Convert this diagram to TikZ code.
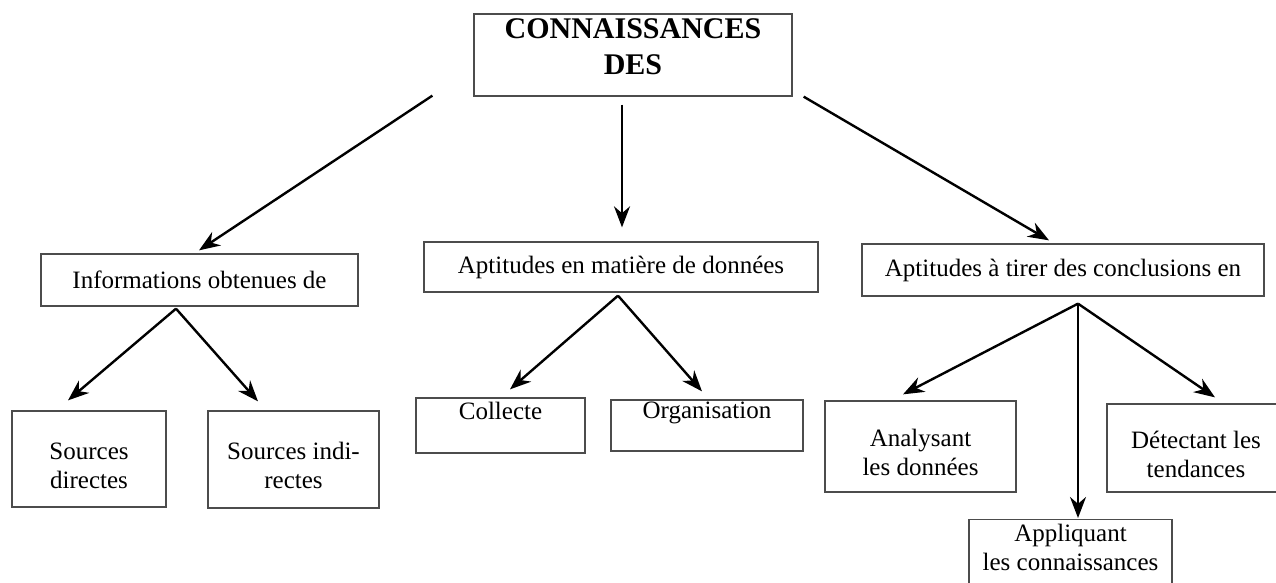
\documentclass[tikz,border=0pt]{standalone}
\usepackage{fontspec}
\setmainfont{Liberation Serif}
\usetikzlibrary{arrows.meta}

\begin{document}
\begin{tikzpicture}[x=1pt,y=-1pt,
  box/.style={draw=black!70,line width=1.3pt,inner sep=2pt,align=center,font=\fontsize{25}{29}\selectfont},
  titlebox/.style={box,font=\fontsize{30}{36}\selectfont\bfseries,text height=56pt,text depth=18pt},
  twolines/.style={text height=58pt,text depth=0pt},
  toptext/.style={text depth=30pt},
  arr/.style={line width=2.4pt,-{Stealth[length=21pt,width=16pt]}}]
\useasboundingbox (0,0) rectangle (1276,582);

\node[titlebox,minimum width=318pt,minimum height=82pt] (top) at (633,55) {CONNAISSANCES\\DES};

\node[box,minimum width=317pt,minimum height=52pt] (info) at (199.5,280) {Informations obtenues de};
\node[box,twolines,minimum width=154pt,minimum height=96pt] (srcdir) at (89,459) {Sources\\directes};
\node[box,twolines,minimum width=171pt,minimum height=97pt] (srcind) at (293.5,459.5) {Sources indi-\\rectes};

\node[box,minimum width=394pt,minimum height=50pt] (donnees) at (621,267) {Aptitudes en matière de données};
\node[box,toptext,minimum width=169pt,minimum height=55pt] (collecte) at (500.5,425.5) {Collecte};
\node[box,toptext,minimum width=192pt,minimum height=51pt] (organis) at (707,425.5) {Organisation};

\node[box,minimum width=402pt,minimum height=52pt] (concl) at (1063,270) {Aptitudes à tirer des conclusions en};
\node[box,twolines,minimum width=191pt,minimum height=91pt] (analys) at (920.5,446.5) {Analysant\\les données};
\node[box,twolines,minimum width=178pt,minimum height=88pt] (detect) at (1196,448) {Détectant les\\tendances};
\node[box,text height=49pt,text depth=40pt,minimum width=203pt,anchor=north] (appl) at (1070.5,519) {Appliquant\\les connaissances};

\draw[arr] ([shift={(-41,-1)}]top.south west) -- ([shift={(-0.5,-3)}]info.north);
\draw[arr] ([shift={(-11,8)}]top.south) -- ([shift={(1,-14)}]donnees.north);
\draw[arr] ([shift={(11,0)}]top.south east) -- ([shift={(-14,-3)}]concl.north);

\draw[arr] ([shift={(-23.5,2)}]info.south) -- ([shift={(-21,-10)}]srcdir.north);
\draw[arr] ([shift={(-23.5,2)}]info.south) -- ([shift={(-35.5,-9)}]srcind.north);

\draw[arr] ([shift={(-3,3)}]donnees.south) -- ([shift={(9.5,-8)}]collecte.north);
\draw[arr] ([shift={(-3,3)}]donnees.south) -- ([shift={(-5,-8)}]organis.north);

\draw[arr] ([shift={(15,7)}]concl.south) -- ([shift={(-17.5,-6)}]analys.north);
\draw[arr] ([shift={(15,7)}]concl.south) -- ([shift={(7.5,-1)}]appl.north);
\draw[arr] ([shift={(15,7)}]concl.south) -- ([shift={(19,-6)}]detect.north);
\end{tikzpicture}
\end{document}
